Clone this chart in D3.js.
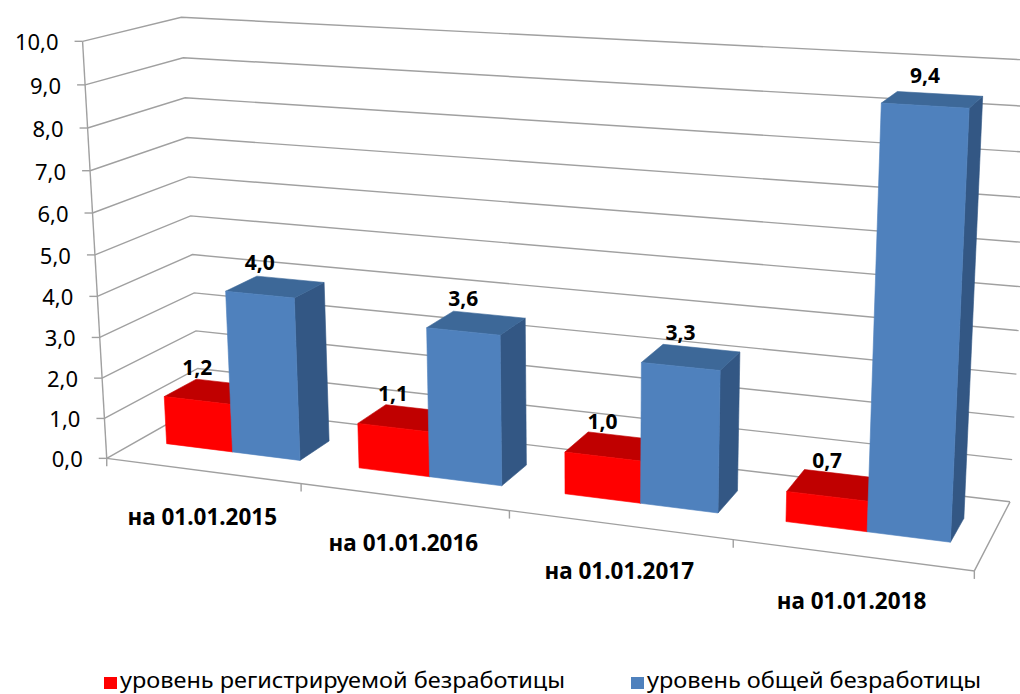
<!DOCTYPE html>
<html><head><meta charset="utf-8">
<script src="https://cdn.jsdelivr.net/npm/d3@7"></script>
<style>body{margin:0;background:#fff}svg{display:block}</style>
</head><body>
<svg id="chart" width="1020" height="694"></svg>
<script>
// ---------- data ----------
const categories = ["на 01.01.2015", "на 01.01.2016", "на 01.01.2017", "на 01.01.2018"];
const seriesNames = ["уровень регистрируемой безработицы", "уровень общей безработицы"];
const registered = [1.2, 1.1, 1.0, 0.7];
const total = [4.0, 3.6, 3.3, 9.4];
const yTicks = [0, 1, 2, 3, 4, 5, 6, 7, 8, 9, 10];
const yTickLabels = ["0,0", "1,0", "2,0", "3,0", "4,0", "5,0", "6,0", "7,0", "8,0", "9,0", "10,0"];

// ---------- 3D frame calibration (world x 0..1, value, depth 0..1 -> screen) ----------
const frameAnchors = [
  [0, 0, 0, 108, 457], [0, 10, 0, 82, 42], [0, 0, 1, 199, 408], [0, 10, 1, 182, 16],
  [1, 0, 0, 975, 572], [1, 0, 1, 1010, 500], [1, 10, 1, 1032, 61],
  [0.25, 0, 0, 300, 483], [0.75, 0, 0, 733, 540]
];
const colors = {
  red: {front: "#ff0000", top: "#c00000", side: "#a00000"},
  blue: {front: "#4f81bd", top: "#3d6898", side: "#335784"}
};
const gridColor = "#a0a0a0";

// ---------- scales ----------
const x = d3.scaleBand().domain(categories).range([0, 1]).paddingInner(0.3).paddingOuter(0.15);
const xs = d3.scaleBand().domain([0, 1]).range([0, x.bandwidth()]);
const y = d3.scaleLinear().domain([0, 10]).range([0, 1]);
const zFront = 0.33, zBack = 0.68;

// ---------- projection via least squares (DLT) ----------
function solve(M, b) {
  const n = b.length;
  const A = M.map((r, i) => r.concat([b[i]]));
  for (let c = 0; c < n; c++) {
    let p = c;
    for (let r = c + 1; r < n; r++) if (Math.abs(A[r][c]) > Math.abs(A[p][c])) p = r;
    [A[c], A[p]] = [A[p], A[c]];
    for (let r = c + 1; r < n; r++) {
      const f = A[r][c] / A[c][c];
      for (let k = c; k <= n; k++) A[r][k] -= f * A[c][k];
    }
  }
  const sol = new Array(n).fill(0);
  for (let r = n - 1; r >= 0; r--) {
    let s = A[r][n];
    for (let k = r + 1; k < n; k++) s -= A[r][k] * sol[k];
    sol[r] = s / A[r][r];
  }
  return sol;
}
const rows = [], rhs = [];
frameAnchors.forEach(([X, V, Z, u, v]) => {
  const Y = y(V); u /= 1000; v /= 1000;
  rows.push([X, Y, Z, 1, 0, 0, 0, 0, -u * X, -u * Y, -u * Z]); rhs.push(u);
  rows.push([0, 0, 0, 0, X, Y, Z, 1, -v * X, -v * Y, -v * Z]); rhs.push(v);
});
const ATA = d3.range(11).map(i => d3.range(11).map(j => d3.sum(rows, r => r[i] * r[j])));
const ATb = d3.range(11).map(i => d3.sum(rows, (r, k) => r[i] * rhs[k]));
const P = solve(ATA, ATb);
function proj(X, Y, Z) {
  const w = P[8] * X + P[9] * Y + P[10] * Z + 1;
  return [1000 * (P[0] * X + P[1] * Y + P[2] * Z + P[3]) / w,
          1000 * (P[4] * X + P[5] * Y + P[6] * Z + P[7]) / w];
}

const svg = d3.select("#chart");
const line = d3.line();
const gGrid = svg.append("g").attr("fill", "none").attr("stroke", gridColor).attr("stroke-width", 1.4);

// wall gridlines (side wall + back wall)
yTicks.forEach(t => {
  gGrid.append("path").attr("d", line([proj(0, y(t), 0), proj(0, y(t), 1), proj(1, y(t), 1)]));
});
// front value axis and its ticks
gGrid.append("path").attr("d", line([proj(0, y(10), 0), proj(0, 0, 0)]));
yTicks.forEach(t => {
  const p = proj(0, y(t), 0);
  gGrid.append("path").attr("d", line([[p[0] - 8, p[1]], p]));
});
// floor edges
gGrid.append("path").attr("d", line([proj(0, 0, 0), proj(1, 0, 0), proj(1, 0, 1)]));
// category ticks
const half = (x.step() - x.bandwidth()) / 2;
const bounds = categories.map(c => x(c) - half).concat([1]);
bounds.forEach(b => {
  const p = proj(b, 0, 0);
  gGrid.append("path").attr("d", line([p, [p[0], p[1] + 8]]));
});

// value tick labels
svg.append("g").selectAll("text").data(yTicks).join("text")
  .attr("x", t => proj(0, y(t), 0)[0] - 24)
  .attr("y", t => proj(0, y(t), 0)[1])
  .attr("text-anchor", "end").attr("dominant-baseline", "central")
  .attr("font-family", "Noto Sans, sans-serif").attr("font-size", 22).attr("fill", "#000")
  .text((t, i) => yTickLabels[i]);

// bars
const gBars = svg.append("g");
const bars = [];
categories.forEach((c, i) => {
  [[registered[i], colors.red, 0], [total[i], colors.blue, 1]].forEach(([v, col, s]) => {
    bars.push({c, v, col, x0: x(c) + xs(s), x1: x(c) + xs(s) + xs.bandwidth()});
  });
});
const poly = pts => "M" + pts.map(p => proj(...p).join(",")).join("L") + "Z";
bars.forEach(b => {
  const h = y(b.v);
  gBars.append("path").attr("fill", b.col.side).attr("stroke", b.col.side).attr("stroke-width", 0.6)
    .attr("d", poly([[b.x1, 0, zFront], [b.x1, 0, zBack], [b.x1, h, zBack], [b.x1, h, zFront]]));
  gBars.append("path").attr("fill", b.col.top).attr("stroke", b.col.top).attr("stroke-width", 0.6)
    .attr("d", poly([[b.x0, h, zFront], [b.x1, h, zFront], [b.x1, h, zBack], [b.x0, h, zBack]]));
  gBars.append("path").attr("fill", b.col.front).attr("stroke", b.col.front).attr("stroke-width", 0.6)
    .attr("d", poly([[b.x0, 0, zFront], [b.x1, 0, zFront], [b.x1, h, zFront], [b.x0, h, zFront]]));
});

// data labels
svg.append("g").selectAll("text").data(bars).join("text")
  .attr("x", b => proj((b.x0 + b.x1) / 2, y(b.v), zFront)[0])
  .attr("y", b => proj((b.x0 + b.x1) / 2, y(b.v), (zFront + zBack) / 2)[1] - 25)
  .attr("text-anchor", "middle").attr("dominant-baseline", "central")
  .attr("font-family", "Noto Sans, sans-serif").attr("font-weight", "bold").attr("font-size", 21)
  .text(b => b.v.toFixed(1).replace(".", ","));

// category labels
svg.append("g").selectAll("text").data(categories).join("text")
  .attr("x", c => proj(x(c) + x.bandwidth() / 2, 0, 0)[0])
  .attr("y", c => proj(x(c) + x.bandwidth() / 2, 0, 0)[1] + 46)
  .attr("text-anchor", "middle").attr("dominant-baseline", "central")
  .attr("font-family", "Noto Sans, sans-serif").attr("font-weight", "bold").attr("font-size", 22.5)
  .text(c => c);

// legend
const legend = svg.append("g").attr("font-family", "Noto Sans, sans-serif").attr("font-size", 21);
const legendItems = [{name: seriesNames[0], col: colors.red.front, x: 104, w: 445},
                     {name: seriesNames[1], col: colors.blue.front, x: 631, w: 334}];
legendItems.forEach(d => {
  legend.append("rect").attr("x", d.x).attr("y", 677).attr("width", 13).attr("height", 12).attr("fill", d.col);
  legend.append("text").attr("x", d.x + 16).attr("y", 688)
    .attr("textLength", d.w).attr("lengthAdjust", "spacingAndGlyphs").text(d.name);
});
</script>
</body></html>
